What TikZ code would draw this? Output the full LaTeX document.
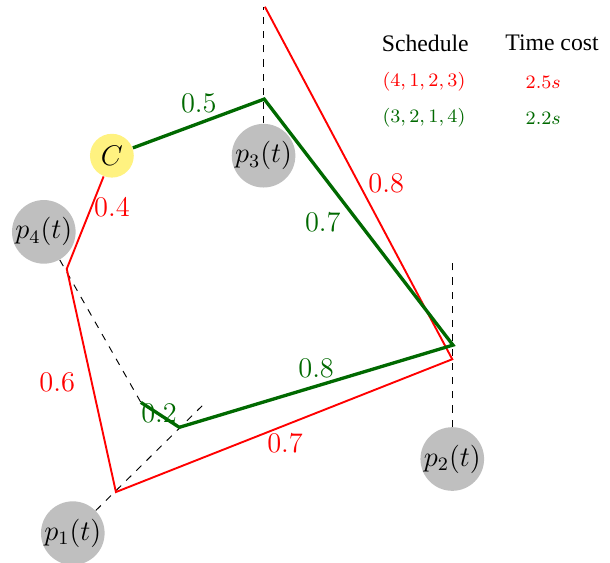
\documentclass[tikz,border=0pt]{standalone}
\usepackage{tikz}
\usepackage{xcolor}
\usepackage{fontspec}
\newfontfamily\timesfont{Liberation Serif}
\usetikzlibrary{arrows.meta, positioning, calc}

\definecolor{cyellow}{RGB}{255,242,128}
\definecolor{cgreen}{RGB}{0,105,0}

\tikzset{
  posnode/.style={circle, fill=gray!50, inner sep=0pt, minimum size=0.89cm, font=\large},
  depotnode/.style={circle, fill=cyellow, inner sep=0pt, minimum size=0.65cm, font=\large},
  redpath/.style={red, thick},
  greenpath/.style={cgreen, line width=1.4pt},
  redlbl/.style={text=red, font=\large, inner sep=0pt},
  greenlbl/.style={text=cgreen, font=\large, inner sep=0pt},
}

\begin{document}
\begin{tikzpicture}
\useasboundingbox (0,0) rectangle (9.05,8.34);

% 位置节点
\node[depotnode] (c)  at (1.66, 6.03) {$C$};
\node[posnode]   (p1) at (1.08, 0.43) {$p_1(t)$};
\node[posnode]   (p2) at (6.71, 1.53) {$p_2(t)$};
\node[posnode]   (p3) at (3.91, 6.03) {$p_3(t)$};
\node[posnode]   (p4) at (0.65, 4.90) {$p_4(t)$};

% 路径拐点
\coordinate (r4) at (0.99, 4.35);
\coordinate (r1) at (1.72, 1.04);
\coordinate (r2) at (6.71, 3.01);
\coordinate (r3) at (3.93, 8.24);
\coordinate (g3) at (3.92, 6.87);
\coordinate (g2) at (6.72, 3.22);
\coordinate (g1) at (2.66, 2.00);
\coordinate (g4) at (2.09, 2.37);
\coordinate (d2) at (6.71, 4.48);
\coordinate (d1) at (3.01, 2.33);
\coordinate (d3) at (3.91, 8.24);

% 虚线：运动方向
\draw[dashed] (p3) -- (d3);
\draw[dashed] (p2) -- (d2);
\draw[dashed] (p4) -- (g4);
\draw[dashed] (p1) -- (d1);

% 调度 (4,1,2,3)
\draw[redpath] (c) -- (r4) -- (r1) -- (r2) -- (r3);
% 调度 (3,2,1,4)
\draw[greenpath] (c) -- (g3) -- (g2) -- (g1) -- (g4);

% 边上的时间
\node[redlbl] (t04) at (1.66, 5.27) {0.4};
\node[redlbl] (t06) at (0.85, 2.67) {0.6};
\node[redlbl] (t07) at (4.23, 1.77) {0.7};
\node[redlbl] (t08) at (5.73, 5.62) {0.8};
\node[greenlbl] (u05) at (2.95, 6.81) {0.5};
\node[greenlbl] (u07) at (4.79, 5.05) {0.7};
\node[greenlbl] (u08) at (4.69, 2.88) {0.8};
\node[greenlbl] (u02) at (2.36, 2.21) {0.2};

% 图例
\node (hsched) at (6.31, 7.70) {\timesfont Schedule};
\node (hcost)  at (8.19, 7.70) {\timesfont Time cost};
\node[text=red, font=\footnotesize]    (s1) at (6.29, 7.12) {$(4,1,2,3)$};
\node[text=red, font=\footnotesize]    (c1) at (8.06, 7.12) {$2.5s$};
\node[text=cgreen, font=\footnotesize] (s2) at (6.29, 6.59) {$(3,2,1,4)$};
\node[text=cgreen, font=\footnotesize] (c2) at (8.06, 6.59) {$2.2s$};
\end{tikzpicture}
\end{document}
